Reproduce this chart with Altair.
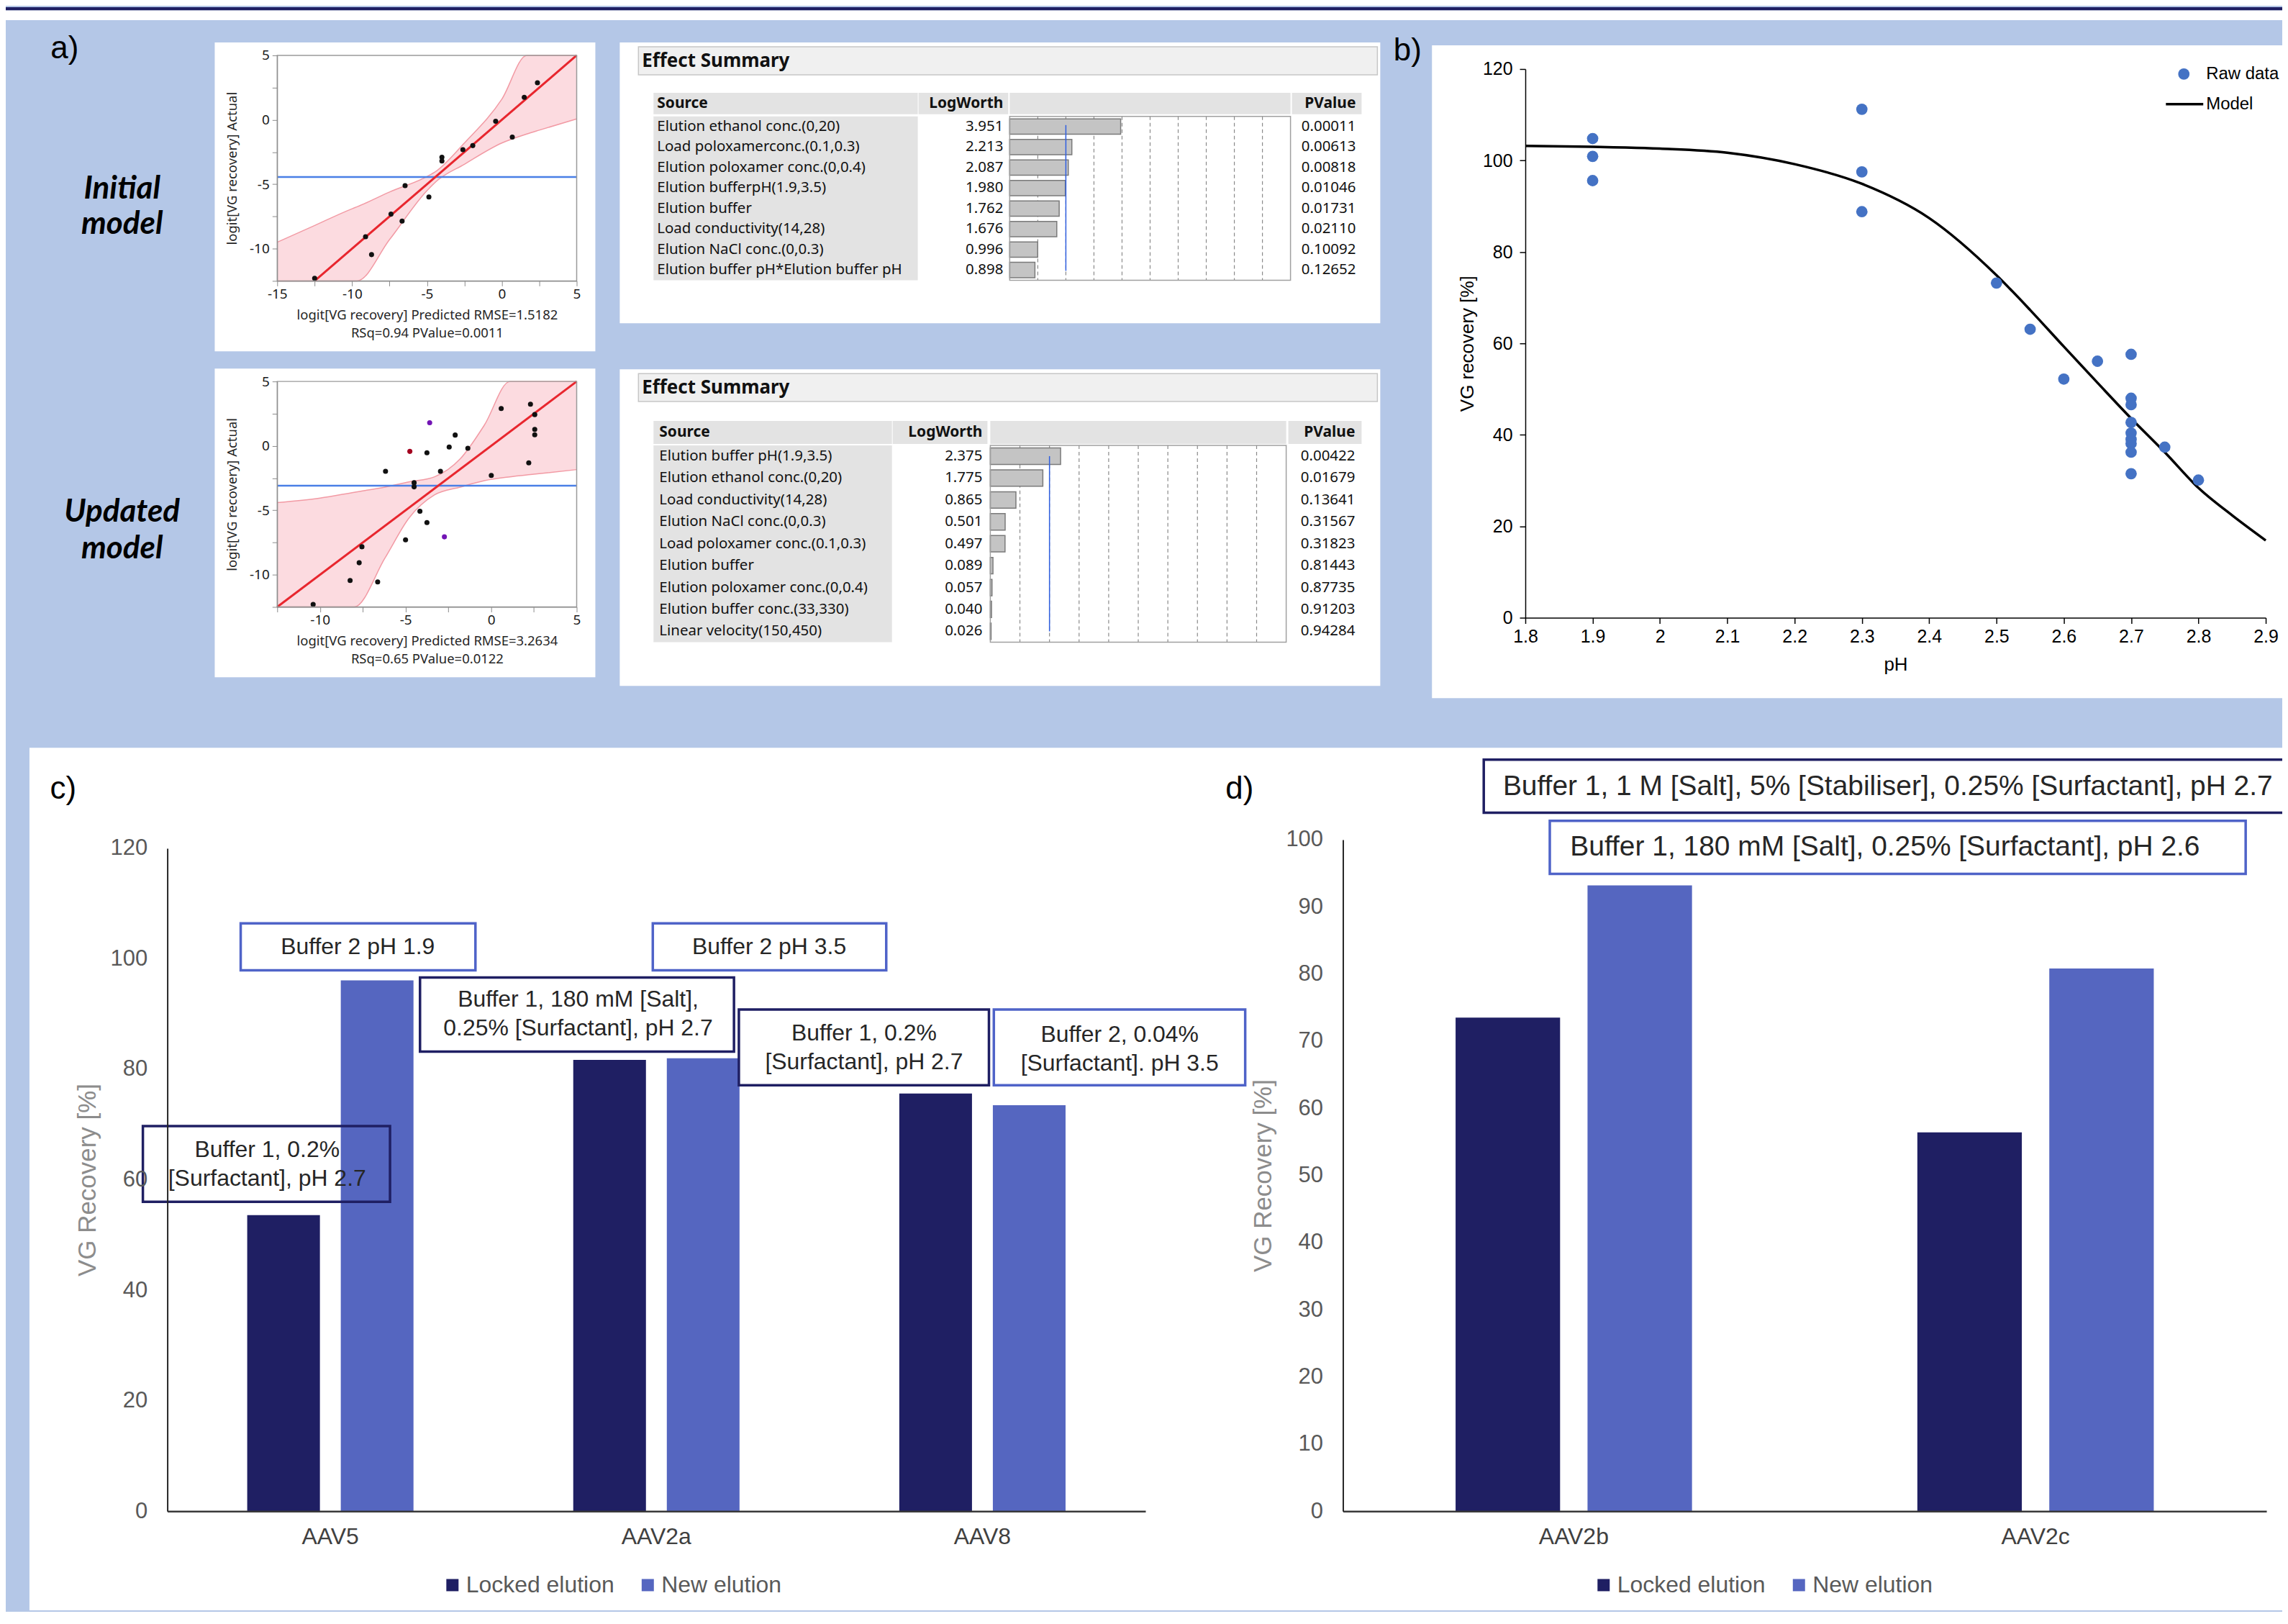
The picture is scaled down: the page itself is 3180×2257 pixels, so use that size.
import altair as alt
import pandas as pd

# ===================== data =====================
# a) actual-by-predicted plots, logit[VG recovery]
init_pred = [-12.5, -9.1, -8.7, -7.4, -6.66, -6.46, -4.87, -4.0, -4.0, -2.6, -1.94, -0.41, 0.70, 1.5, 2.38]
init_actual = [-12.3, -9.07, -10.46, -7.32, -7.86, -5.11, -5.99, -2.9, -3.2, -2.32, -2.0, -0.11, -1.34, 1.75, 2.88]
init_group = ["k"] * 15
init_fit_x = [-12.5, 5.0]
init_fit_y = [-12.5, 5.0]
init_mean = -4.44
init_band_x = [-15, -12.5, -10, -9.67, -7.5, -5, -4.4, -2.5, 0, 1.67, 2.5, 5]
init_band_lo = [-20.5, -16.8, -13.2, -12.5, -9.3, -5.5, -4.8, -3.45, -1.8, -1.1, -0.8, 0.07]
init_band_hi = [-9.5, -8.2, -6.9, -6.75, -5.6, -4.4, -4.0, -1.8, 1.6, 5.0, 5.8, 9.9]
init_x_domain = [-15, 5]
init_x_ticks = [-15, -12.5, -10, -7.5, -5, -2.5, 0, 2.5, 5]
init_x_title = ["logit[VG recovery] Predicted RMSE=1.5182", "RSq=0.94 PValue=0.0011"]

upd_pred = [-10.4, -8.24, -7.71, -7.55, -6.63, -6.17, -5.0, -4.75, -4.5, -4.5, -4.16, -3.75, -3.75,
            -3.59, -2.96, -2.73, -2.45, -2.10, -1.36, 0.01, 0.59, 2.2, 2.30, 2.55, 2.55, 2.55]
upd_actual = [-12.3, -10.45, -9.07, -7.83, -10.56, -1.97, -7.29, -0.43, -2.86, -3.18, -5.07, -0.54, -5.95,
              1.80, -1.97, -7.06, -0.09, 0.84, -0.19, -2.29, 2.90, -1.32, 3.23, 2.43, 1.28, 0.86]
upd_group = ["k", "k", "k", "k", "k", "k", "k", "r", "k", "k", "k", "k", "k",
             "p", "k", "p", "k", "k", "k", "k", "k", "k", "k", "k", "k", "k"]
upd_fit_x = [-12.5, 5.0]
upd_fit_y = [-12.5, 5.0]
upd_mean = -3.09
upd_band_x = [-12.5, -10, -8, -6.2, -4.8, -3.3, -1.8, -0.4, 1.1, 2.5, 5]
upd_band_lo = [-20.6, -16.0, -12.5, -8.7, -5.6, -3.8, -3.2, -2.7, -2.4, -2.2, -1.84]
upd_band_hi = [-4.4, -4.05, -3.6, -3.2, -2.8, -2.4, -1.0, 1.6, 5.0, 7.5, 11.0]
upd_x_domain = [-12.5, 5]
upd_x_ticks = [-12.5, -10, -7.5, -5, -2.5, 0, 2.5, 5]
upd_x_title = ["logit[VG recovery] Predicted RMSE=3.2634", "RSq=0.65 PValue=0.0122"]

logit_y_domain = [-12.5, 5]
logit_y_ticks = [-12.5, -10, -7.5, -5, -2.5, 0, 2.5, 5]

# a) effect summaries
t1_source = ["Elution ethanol conc.(0,20)", "Load poloxamerconc.(0.1,0.3)", "Elution poloxamer conc.(0,0.4)",
             "Elution bufferpH(1.9,3.5)", "Elution buffer", "Load conductivity(14,28)",
             "Elution NaCl conc.(0,0.3)", "Elution buffer pH*Elution buffer pH"]
t1_logworth = [3.951, 2.213, 2.087, 1.980, 1.762, 1.676, 0.996, 0.898]
t1_pvalue = ["0.00011", "0.00613", "0.00818", "0.01046", "0.01731", "0.02110", "0.10092", "0.12652"]

t2_source = ["Elution buffer pH(1.9,3.5)", "Elution ethanol conc.(0,20)", "Load conductivity(14,28)",
             "Elution NaCl conc.(0,0.3)", "Load poloxamer conc.(0.1,0.3)", "Elution buffer",
             "Elution poloxamer conc.(0,0.4)", "Elution buffer conc.(33,330)", "Linear velocity(150,450)"]
t2_logworth = [2.375, 1.775, 0.865, 0.501, 0.497, 0.089, 0.057, 0.040, 0.026]
t2_pvalue = ["0.00422", "0.01679", "0.13641", "0.31567", "0.31823", "0.81443", "0.87735", "0.91203", "0.94284"]
logworth_domain = [0, 10]
logworth_grid = [1, 2, 3, 4, 5, 6, 7, 8, 9]
logworth_threshold = 2

# b) VG recovery vs pH
ph_raw = [1.9, 1.9, 1.9, 2.3, 2.3, 2.3, 2.5, 2.55, 2.6, 2.65, 2.7, 2.7, 2.7, 2.7, 2.7, 2.7, 2.7, 2.7, 2.7, 2.75, 2.8]
rec_raw = [104.8, 100.9, 95.6, 111.2, 97.5, 88.8, 73.2, 63.1, 52.2, 56.1, 57.6, 48.0, 46.6, 42.7, 40.4,
           39.0, 38.1, 36.2, 31.5, 37.3, 30.1]
model_ph = [1.8, 1.9, 2.0, 2.1, 2.2, 2.3, 2.4, 2.5, 2.55, 2.6, 2.65, 2.7, 2.75, 2.8, 2.85, 2.9]
model_rec = [103.2, 103.0, 102.6, 101.7, 99.2, 94.9, 87.4, 74.9, 67.3, 59.3, 51.4, 43.6, 36.2, 28.4, 22.4, 16.9]
ph_domain = [1.8, 2.9]
ph_ticks = [1.8, 1.9, 2.0, 2.1, 2.2, 2.3, 2.4, 2.5, 2.6, 2.7, 2.8, 2.9]
rec_ticks_b = [0, 20, 40, 60, 80, 100, 120]

# c) and d) grouped bars
series_names = ["Locked elution", "New elution"]
c_virus = ["AAV5", "AAV2a", "AAV8"]
c_locked = [53.6, 81.7, 75.6]
c_new = [96.1, 82.0, 73.5]
c_ticks = [0, 20, 40, 60, 80, 100, 120]
d_virus = ["AAV2b", "AAV2c"]
d_locked = [73.5, 56.4]
d_new = [93.2, 80.8]
d_ticks = [0, 10, 20, 30, 40, 50, 60, 70, 80, 90, 100]

# annotation call-outs (category-index units across the x axis, % units on y;
# ty is the level of the first text line)
c_notes = [
    {"text": "Buffer 1, 0.2%\n[Surfactant], pH 2.7", "kind": "locked", "x0": -0.075, "x1": 0.683, "y0": 56.0, "y1": 69.7, "tx": 0.306, "ty": 65.4},
    {"text": "Buffer 2 pH 1.9", "kind": "new", "x0": 0.225, "x1": 0.945, "y0": 97.9, "y1": 106.4, "tx": 0.584, "ty": 102.2},
    {"text": "Buffer 1, 180 mM [Salt],\n0.25% [Surfactant], pH 2.7", "kind": "locked", "x0": 0.775, "x1": 1.738, "y0": 83.2, "y1": 96.6, "tx": 1.26, "ty": 92.6},
    {"text": "Buffer 2 pH 3.5", "kind": "new", "x0": 1.489, "x1": 2.205, "y0": 97.9, "y1": 106.4, "tx": 1.846, "ty": 102.2},
    {"text": "Buffer 1, 0.2%\n[Surfactant], pH 2.7", "kind": "locked", "x0": 1.753, "x1": 2.520, "y0": 77.1, "y1": 90.8, "tx": 2.137, "ty": 86.5},
    {"text": "Buffer 2, 0.04%\n[Surfactant]. pH 3.5", "kind": "new", "x0": 2.535, "x1": 3.306, "y0": 77.1, "y1": 90.8, "tx": 2.921, "ty": 86.3},
]
d_notes = [
    {"text": "Buffer 1, 1 M [Salt], 5% [Stabiliser], 0.25% [Surfactant], pH 2.7", "kind": "locked", "x0": 0.305, "x1": 2.06, "y0": 104.0, "y1": 111.9, "tx": 1.180, "ty": 107.9},
    {"text": "Buffer 1, 180 mM [Salt], 0.25% [Surfactant], pH 2.6", "kind": "new", "x0": 0.448, "x1": 1.955, "y0": 94.9, "y1": 102.8, "tx": 1.174, "ty": 98.9},
]

# ===================== styling / layout =====================
CW, CH = 3170, 2232          # canvas (whole figure) size in px
BG = "#b4c7e7"
NAVY = "#1f1f63"
NEWC = "#5566c0"
BOXBLUE = "#4f63c8"
JMP_FONT = "Noto Sans"
ARIAL = "Liberation Sans"
DUMMY = pd.DataFrame({"d": [0]})


def vrect(x0, x1, y0, y1, fill="white", opacity=1.0, stroke=None, sw=0.0):
    kw = dict(fill=fill, fillOpacity=opacity)
    if stroke is not None:
        kw["stroke"] = stroke
        kw["strokeWidth"] = sw
    return alt.Chart(DUMMY).mark_rect(**kw).encode(
        x=alt.value(x0), x2=alt.value(x1), y=alt.value(y0), y2=alt.value(y1))


def vtext(txt, x, y, size, font=ARIAL, align="center", baseline="middle", color="black", **kw):
    return alt.Chart(DUMMY).mark_text(text=txt, fontSize=size, font=font, align=align,
                                      baseline=baseline, color=color, **kw).encode(
        x=alt.value(x), y=alt.value(y))


# ---------- a) actual-by-predicted scatter ----------
def scatter(pred, act, grp, bx, blo, bhi, fx, fy, mean, xdom, xticks, xtitle, xr, yr):
    pts = pd.DataFrame({"pred": pred, "act": act, "grp": grp})
    band = pd.DataFrame({"x": bx, "lo": blo, "hi": bhi})
    fit = pd.DataFrame({"x": fx, "y": fy})
    xs = alt.Scale(domain=xdom, range=xr, nice=False, zero=False, clamp=True)
    ys = alt.Scale(domain=logit_y_domain, range=yr, nice=False, zero=False, clamp=True)
    lab = "datum.value % 5 === 0 ? '' + datum.value : ''"
    common = dict(grid=False, tickSize=7, tickColor="#8c8c8c", domainColor="#8c8c8c",
                  labelFont=JMP_FONT, labelFontSize=19, labelColor="#1a1a1a", labelExpr=lab,
                  labelFlush=False, labelOverlap=False,
                  titleFont=JMP_FONT, titleFontSize=18.5, titleFontWeight="normal",
                  titleColor="#262626", zindex=1)
    xax = alt.Axis(orient="bottom", offset=yr[0] - CH, values=xticks, title=xtitle, labelPadding=2,
                   titleLineHeight=25, titleBaseline="top", titleY=38, **common)
    yax = alt.Axis(orient="left", offset=-xr[0], values=logit_y_ticks, title="logit[VG recovery] Actual",
                   labelPadding=4, titleX=-63, titleBaseline="middle", **common)
    X = lambda f: alt.X(f, scale=xs)
    Y = lambda f: alt.Y(f, scale=ys)
    return alt.layer(
        alt.Chart(band).mark_area(color="#fcdbe0", interpolate="monotone").encode(
            x=alt.X("x:Q", scale=xs, axis=xax), y=alt.Y("lo:Q", scale=ys, axis=yax), y2="hi"),
        alt.Chart(band).mark_line(color="#f29aa4", strokeWidth=1.5, interpolate="monotone").encode(
            x=X("x:Q"), y=Y("lo:Q")),
        alt.Chart(band).mark_line(color="#f29aa4", strokeWidth=1.5, interpolate="monotone").encode(
            x=X("x:Q"), y=Y("hi:Q")),
        alt.Chart(DUMMY).mark_rule(color="#4a7fe6", strokeWidth=2.5).encode(
            x=alt.datum(xdom[0]), x2=alt.datum(xdom[1]), y=alt.datum(mean)),
        alt.Chart(fit).mark_line(color="#e8262e", strokeWidth=3).encode(x=X("x:Q"), y=Y("y:Q")),
        alt.Chart(pts).mark_circle(size=50, opacity=1).encode(
            x=X("pred:Q"), y=Y("act:Q"),
            color=alt.Color("grp:N", scale=alt.Scale(domain=["k", "r", "p"],
                                                      range=["#111111", "#a3001e", "#7214b4"]), legend=None)),
    )


# ---------- a) effect summary table ----------
def effect_table(sources, lw, pv, xr, yr, blue_y, tx):
    df = pd.DataFrame({"src": sources, "lw": lw, "lwt": [f"{v:.3f}" for v in lw], "pv": pv})
    grid = pd.DataFrame({"g": logworth_grid})
    xs = alt.Scale(domain=logworth_domain, range=xr, nice=False)
    ys = alt.Scale(domain=sources, range=yr, paddingInner=0.25, paddingOuter=0.12)
    Y = alt.Y("src:N", scale=ys, axis=None)
    txt = dict(font=JMP_FONT, fontSize=20.5, color="#111111", baseline="middle")
    return alt.layer(
        alt.Chart(grid).mark_rule(strokeDash=[5, 4], color="#8a8a8a", strokeWidth=1.2).encode(
            x=alt.X("g:Q", scale=xs, axis=None), y=alt.value(yr[0]), y2=alt.value(yr[1])),
        alt.Chart(df).mark_bar(color="#c4c4c4", stroke="#7a7a7a", strokeWidth=1.5).encode(
            x=alt.X("lw:Q", scale=xs, axis=None), y=Y),
        alt.Chart(DUMMY).mark_rule(color="#2f5fe0", strokeWidth=1.5).encode(
            x=alt.X(datum=logworth_threshold, scale=xs, axis=None),
            y=alt.value(blue_y[0]), y2=alt.value(blue_y[1])),
        alt.Chart(df).mark_text(align="left", **txt).encode(x=alt.value(tx[0]), y=Y, text="src:N"),
        alt.Chart(df).mark_text(align="right", **txt).encode(x=alt.value(tx[1]), y=Y, text="lwt:N"),
        alt.Chart(df).mark_text(align="right", **txt).encode(x=alt.value(tx[2]), y=Y, text="pv:N"),
    )


def table_frame(es, es_t, hdr, src, lwc, chart, pvc, body, tx):
    hmid = (hdr[0] + hdr[1]) / 2
    gray = "#e3e3e3"
    hk = dict(font=JMP_FONT, fontWeight="bold", color="#111111")
    return [
        vrect(*es, fill="#f0f0f0", stroke="#c6c6c6", sw=1.5),
        vtext("Effect Summary", es_t[0], es_t[1], 26, align="left", **hk),
        vrect(src[0], src[1], hdr[0], hdr[1], fill=gray),
        vrect(lwc[0], lwc[1], hdr[0], hdr[1], fill=gray),
        vrect(chart[0], chart[1], hdr[0], hdr[1], fill=gray),
        vrect(pvc[0], pvc[1], hdr[0], hdr[1], fill=gray),
        vrect(src[0], src[1], body[0], body[1], fill=gray),
        vtext("Source", tx[0], hmid, 21, align="left", **hk),
        vtext("LogWorth", tx[1], hmid, 21, align="right", **hk),
        vtext("PValue", tx[2], hmid, 21, align="right", **hk),
    ]


# ---------- b) recovery vs pH ----------
def panel_b(xr, yr):
    pts = pd.DataFrame({"ph": ph_raw, "rec": rec_raw})
    mod = pd.DataFrame({"ph": model_ph, "rec": model_rec})
    xs = alt.Scale(domain=ph_domain, range=xr, nice=False, zero=False)
    ys = alt.Scale(domain=[rec_ticks_b[0], rec_ticks_b[-1]], range=yr, nice=False, zero=False)
    common = dict(grid=False, domainColor="black", domainWidth=1.5, tickColor="black", tickSize=8,
                  tickWidth=1.5, labelFont=ARIAL, labelFontSize=25, labelColor="black",
                  labelFlush=False, labelOverlap=False,
                  titleFont=ARIAL, titleFontSize=26, titleFontWeight="normal", titleColor="black", zindex=1)
    xax = alt.Axis(orient="bottom", offset=yr[0] - CH, values=ph_ticks, format=".1~f", title="pH",
                   labelPadding=6, titleY=65, titleBaseline="middle", **common)
    yax = alt.Axis(orient="left", offset=-xr[0], values=rec_ticks_b, title="VG recovery [%]",
                   labelPadding=10, titleX=-81, titleBaseline="middle", **common)
    return alt.layer(
        alt.Chart(mod).mark_line(color="black", strokeWidth=3.5, interpolate="monotone").encode(
            x=alt.X("ph:Q", scale=xs, axis=xax), y=alt.Y("rec:Q", scale=ys, axis=yax)),
        alt.Chart(pts).mark_circle(size=250, color="#4472c4", opacity=1).encode(
            x=alt.X("ph:Q", scale=xs), y=alt.Y("rec:Q", scale=ys)),
    )


# ---------- c) / d) grouped bars ----------
def bar_panel(cats, locked, new, ticks, xr, yr, pin, pout, opin, notes, note_size, legend_xy, title_x):
    df = pd.DataFrame({"virus": cats * 2,
                       "series": [series_names[0]] * len(cats) + [series_names[1]] * len(cats),
                       "rec": locked + new})
    nd = pd.DataFrame(notes)
    xb = alt.Scale(domain=cats, range=xr, paddingInner=pin, paddingOuter=pout)
    ys = alt.Scale(domain=[ticks[0], ticks[-1]], range=yr, nice=False)
    ax = alt.Scale(domain=[0, len(cats)], range=xr, nice=False, zero=False)
    xax = alt.Axis(orient="bottom", offset=yr[0] - CH, title=None, labelAngle=0, labelFont=ARIAL,
                   labelFontSize=32, labelColor="#404040", ticks=False, tickSize=0, labelPadding=20,
                   domainColor="#3a3a3a", domainWidth=2.5, grid=False, zindex=1)
    yax = alt.Axis(orient="left", offset=-xr[0], values=ticks, title="VG Recovery [%]", titleFont=ARIAL,
                   titleFontSize=35, titleColor="#8c8c8c", titleFontWeight="normal", titleX=title_x,
                   titleBaseline="middle", labelFont=ARIAL, labelFontSize=31, labelColor="#595959",
                   ticks=False, tickSize=0, labelPadding=28, domainColor="#262626", domainWidth=2,
                   grid=False, zindex=1)
    bars = alt.Chart(df).mark_bar().encode(
        x=alt.X("virus:N", scale=xb, axis=xax, sort=None),
        xOffset=alt.XOffset("series:N", scale=alt.Scale(domain=series_names, paddingInner=opin, paddingOuter=0)),
        y=alt.Y("rec:Q", scale=ys, axis=yax),
        color=alt.Color("series:N", scale=alt.Scale(domain=series_names, range=[NAVY, NEWC]),
                        legend=alt.Legend(orient="none", legendX=legend_xy[0], legendY=legend_xy[1],
                                          direction="horizontal", title=None, symbolType="square",
                                          symbolSize=289, symbolStrokeWidth=0, labelFont=ARIAL,
                                          labelFontSize=32, labelColor="#595959", labelLimit=600,
                                          columnPadding=30, labelOffset=3, zindex=1)))
    boxes = alt.Chart(nd).mark_rect(fill="white", fillOpacity=0, strokeWidth=3.5).encode(
        x=alt.X("x0:Q", scale=ax, axis=None), x2="x1",
        y=alt.Y("y0:Q", scale=ys), y2="y1",
        stroke=alt.Stroke("kind:N", scale=alt.Scale(domain=["locked", "new"], range=[NAVY, BOXBLUE]),
                          legend=None))
    texts = alt.Chart(nd).mark_text(lineBreak="\n", fontSize=note_size, font=ARIAL, color="#262626",
                                    lineHeight=round(note_size * 1.24), baseline="middle", align="center").encode(
        x=alt.X("tx:Q", scale=ax, axis=None), y=alt.Y("ty:Q", scale=ys), text="text:N")
    return alt.layer(bars, boxes, texts).resolve_scale(x="independent")


# ===================== assemble on one canvas =====================
lab_kw = dict(font="Lato", fontStyle="italic", fontWeight="bold", baseline="alphabetic")

layers = [
    # header strip and white panels
    vrect(0, CW, 0, 4.5, fill=NAVY),
    vrect(0, CW, 4.5, 18),
    vrect(291, 821, 49, 479),
    vrect(291, 821, 503, 933),
    vrect(855, 1914, 49, 440),
    vrect(855, 1914, 504, 945),
    vrect(1986, CW, 53, 962),
    vrect(33, CW, 1031, CH),
    # panel tags and row labels
    vtext("a)", 82, 58, 44),
    vtext("Initial", 162, 266, 44, **lab_kw),
    vtext("model", 162, 315, 44, **lab_kw),
    vtext("Updated", 162, 716, 44, **lab_kw),
    vtext("model", 162, 767, 44, **lab_kw),
    vtext("b)", 1952, 61, 44),
    vtext("c)", 80, 1089, 44),
    vtext("d)", 1718, 1089, 44),
]

# a) scatters
layers.append(scatter(init_pred, init_actual, init_group, init_band_x, init_band_lo, init_band_hi,
                      init_fit_x, init_fit_y, init_mean, init_x_domain, init_x_ticks, init_x_title,
                      xr=[378, 795], yr=[381, 67]))
layers.append(vrect(378, 795, 67, 381, opacity=0, stroke="#9a9a9a", sw=1.5))
layers.append(scatter(upd_pred, upd_actual, upd_group, upd_band_x, upd_band_lo, upd_band_hi,
                      upd_fit_x, upd_fit_y, upd_mean, upd_x_domain, upd_x_ticks, upd_x_title,
                      xr=[378, 795], yr=[835, 521]))
layers.append(vrect(378, 795, 521, 835, opacity=0, stroke="#9a9a9a", sw=1.5))

# a) effect summary tables
layers += table_frame(es=(881, 1910, 55, 94), es_t=(886, 75), hdr=(119, 149), src=(902, 1270),
                      lwc=(1271, 1396), chart=(1398, 1789), pvc=(1791, 1888), body=(152, 380),
                      tx=(907, 1389, 1880))
layers.append(effect_table(t1_source, t1_logworth, t1_pvalue, xr=[1398, 1789], yr=[152, 380],
                           blue_y=(164, 367), tx=(907, 1389, 1880)))
layers.append(vrect(1398, 1789, 152, 380, opacity=0, stroke="#a0a0a0", sw=1.5))
layers += table_frame(es=(881, 1910, 510, 549), es_t=(886, 530), hdr=(576, 608), src=(902, 1234),
                      lwc=(1235, 1367), chart=(1371, 1783), pvc=(1786, 1888), body=(610, 884),
                      tx=(910, 1360, 1879))
layers.append(effect_table(t2_source, t2_logworth, t2_pvalue, xr=[1371, 1783], yr=[610, 884],
                           blue_y=(625, 869), tx=(910, 1360, 1879)))
layers.append(vrect(1371, 1783, 610, 884, opacity=0, stroke="#a0a0a0", sw=1.5))

# b)
layers.append(panel_b(xr=[2116, 3147], yr=[850, 86]))
layers += [
    alt.Chart(DUMMY).mark_circle(size=250, color="#4472c4", opacity=1).encode(x=alt.value(3033), y=alt.value(93)),
    vtext("Raw data", 3064, 93, 24, align="left"),
    alt.Chart(DUMMY).mark_rule(color="black", strokeWidth=3.5).encode(
        x=alt.value(3008), x2=alt.value(3060), y=alt.value(135)),
    vtext("Model", 3064, 135, 24, align="left"),
]

# c) and d)
layers.append(bar_panel(c_virus, c_locked, c_new, c_ticks, xr=[225, 1587], yr=[2094, 1171],
                        pin=0.49, pout=0.245, opin=0.223, notes=c_notes, note_size=32,
                        legend_xy=(606, 2181), title_x=-111))
layers.append(bar_panel(d_virus, d_locked, d_new, d_ticks, xr=[1862, 3148], yr=[2094, 1159],
                        pin=0.488, pout=0.244, opin=0.208, notes=d_notes, note_size=39,
                        legend_xy=(2209, 2181), title_x=-111))

chart = alt.layer(*layers).resolve_scale(
    x="independent", y="independent", color="independent", stroke="independent", xOffset="independent"
).properties(
    width=CW, height=CH, background=BG, padding=0,
    autosize=alt.AutoSizeParams(type="none"),
).configure(font=ARIAL).configure_view(stroke=None)

chart.save("out.html", embed_options={"renderer": "svg", "actions": False})
